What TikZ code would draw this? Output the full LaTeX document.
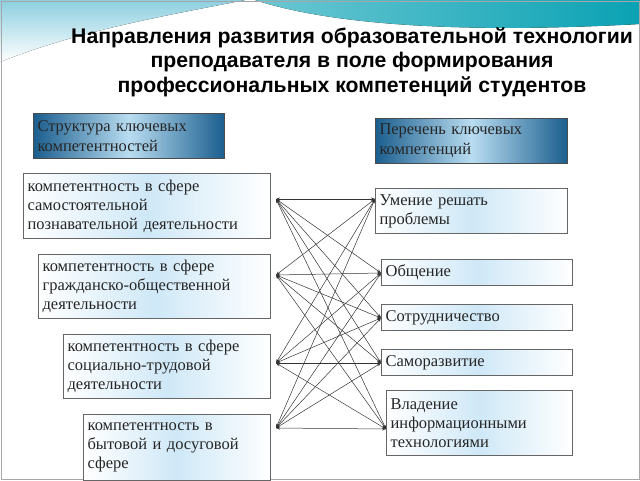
\documentclass[tikz,border=0pt]{standalone}
\usepackage{fontspec}
\setmainfont{Liberation Serif}
\newfontfamily\titlefont{Liberation Sans}
\usetikzlibrary{arrows.meta}
\definecolor{headblue}{HTML}{1B5E8E}
\definecolor{headlight}{HTML}{B9DDF1}
\definecolor{boxblue}{HTML}{CFE8F7}
\definecolor{wavelight}{HTML}{8CCFE0}
\definecolor{waveteal}{HTML}{0AA2B4}
\tikzset{
  head/.style={draw=gray!60!black, line width=1pt, left color=headblue, right color=headblue,
    middle color=headlight, text=black!85, align=left, anchor=north west, inner sep=4pt,
    font=\fontsize{16.5}{20}\selectfont},
  item/.style={draw=gray!80!black, line width=1.2pt, left color=white, right color=white,
    middle color=boxblue, text=black!85, align=left, anchor=north west, inner sep=4pt,
    font=\fontsize{16.5}{19}\selectfont},
  link/.style={black!80, line width=.5pt, {Stealth[length=4pt,width=3pt]}-{Stealth[length=4pt,width=3pt]}}
}
\begin{document}
\begin{tikzpicture}[x=1pt,y=-1pt]
    \useasboundingbox (0,0) rectangle (640,480);
    % background
    \fill[top color=wavelight, bottom color=white] (0,0) -- (245,0) .. controls (170,15) and (80,30) .. (0,62) -- cycle;
    \fill[left color=waveteal!60, right color=waveteal] (255,0) .. controls (310,18) and (420,36) .. (640,24) -- (640,0) -- cycle;
    \draw[gray!70] (1,1) rectangle (639,479);
    % title
    \node[font=\titlefont\bfseries\fontsize{21.2}{24.5}\selectfont, align=center] (title) at (352,62)
        {Направления развития образовательной технологии\\преподавателя в поле формирования\\профессиональных компетенций студентов};
    % headers
    \node[head, minimum width=191pt, minimum height=45pt, text width=183pt] (struct) at (33,113)
        {Структура ключевых\\компетентностей};
    \node[head, minimum width=192pt, minimum height=45pt, text width=184pt] (list) at (375,118)
        {Перечень ключевых\\компетенций};
    % left column
    \node[item, minimum width=247pt, minimum height=65pt, text width=239pt] (k1) at (23,173)
        {компетентность в сфере\\самостоятельной\\познавательной деятельности};
    \node[item, minimum width=232pt, minimum height=64pt, text width=224pt] (k2) at (38,254)
        {компетентность в сфере\\гражданско-общественной\\деятельности};
    \node[item, minimum width=207pt, minimum height=64pt, text width=199pt] (k3) at (63,334)
        {компетентность в сфере\\социально-трудовой\\деятельности};
    \node[item, minimum width=187pt, minimum height=66pt, text width=179pt] (k4) at (83,414)
        {компетентность в\\бытовой и досуговой\\сфере};
    % right column
    \node[item, minimum width=192pt, minimum height=45pt, text width=184pt] (c1) at (375,188)
        {Умение решать\\проблемы};
    \node[item, minimum width=191pt, minimum height=26pt, text width=183pt] (c2) at (381,259) {Общение};
    \node[item, minimum width=191pt, minimum height=26pt, text width=183pt] (c3) at (381,304) {Сотрудничество};
    \node[item, minimum width=191pt, minimum height=26pt, text width=183pt] (c4) at (381,349) {Саморазвитие};
    \node[item, minimum width=186pt, minimum height=65pt, text width=178pt] (c5) at (386,390)
        {Владение\\информационными\\технологиями};
    % connectors
    \coordinate (l1) at (276,199);
    \coordinate (l2) at (276,275);
    \coordinate (l3) at (276,363);
    \coordinate (l4) at (276,428);
    \coordinate (r1) at (375,199);
    \coordinate (r2) at (381,273);
    \coordinate (r3) at (381,318);
    \coordinate (r4) at (381,363);
    \coordinate (r5) at (386,429);
    \foreach \a in {1,2,3,4}
      \foreach \b in {1,...,5}
        \draw[link] (l\a) -- (r\b);
\end{tikzpicture}
\end{document}
